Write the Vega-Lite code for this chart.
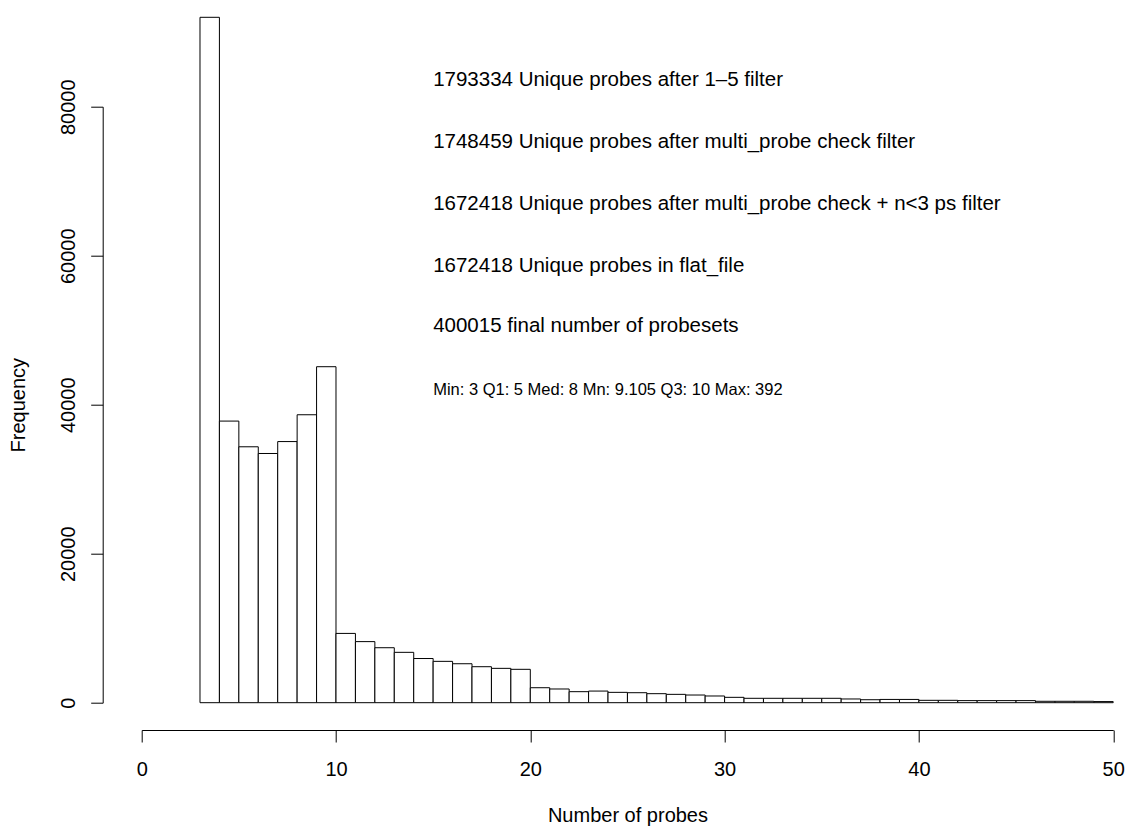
{
  "$schema": "https://vega.github.io/schema/vega-lite/v6.json",
  "width": 971.5,
  "height": 596,
  "autosize": {"type": "none"},
  "padding": {"left": 141.7, "top": 106.7, "right": 14.8, "bottom": 123.3},
  "background": "white",
  "config": {"view": {"stroke": null}, "font": "Liberation Sans"},
  "datasets": {
    "bins": [
      {"start": 3, "end": 4, "count": 92000},
      {"start": 4, "end": 5, "count": 37800},
      {"start": 5, "end": 6, "count": 34350},
      {"start": 6, "end": 7, "count": 33450},
      {"start": 7, "end": 8, "count": 35050},
      {"start": 8, "end": 9, "count": 38650},
      {"start": 9, "end": 10, "count": 45100},
      {"start": 10, "end": 11, "count": 9300},
      {"start": 11, "end": 12, "count": 8200},
      {"start": 12, "end": 13, "count": 7380},
      {"start": 13, "end": 14, "count": 6760},
      {"start": 14, "end": 15, "count": 5930},
      {"start": 15, "end": 16, "count": 5550},
      {"start": 16, "end": 17, "count": 5230},
      {"start": 17, "end": 18, "count": 4830},
      {"start": 18, "end": 19, "count": 4610},
      {"start": 19, "end": 20, "count": 4480},
      {"start": 20, "end": 21, "count": 2010},
      {"start": 21, "end": 22, "count": 1840},
      {"start": 22, "end": 23, "count": 1480},
      {"start": 23, "end": 24, "count": 1560},
      {"start": 24, "end": 25, "count": 1390},
      {"start": 25, "end": 26, "count": 1340},
      {"start": 26, "end": 27, "count": 1210},
      {"start": 27, "end": 28, "count": 1120},
      {"start": 28, "end": 29, "count": 1030},
      {"start": 29, "end": 30, "count": 900},
      {"start": 30, "end": 31, "count": 720},
      {"start": 31, "end": 32, "count": 590},
      {"start": 32, "end": 33, "count": 590},
      {"start": 33, "end": 34, "count": 590},
      {"start": 34, "end": 35, "count": 590},
      {"start": 35, "end": 36, "count": 590},
      {"start": 36, "end": 37, "count": 500},
      {"start": 37, "end": 38, "count": 400},
      {"start": 38, "end": 39, "count": 440},
      {"start": 39, "end": 40, "count": 440},
      {"start": 40, "end": 41, "count": 320},
      {"start": 41, "end": 42, "count": 320},
      {"start": 42, "end": 43, "count": 280},
      {"start": 43, "end": 44, "count": 280},
      {"start": 44, "end": 45, "count": 280},
      {"start": 45, "end": 46, "count": 280},
      {"start": 46, "end": 47, "count": 190},
      {"start": 47, "end": 48, "count": 190},
      {"start": 48, "end": 49, "count": 190},
      {"start": 49, "end": 50, "count": 150}
    ],
    "notes": [
      {"x": 15, "y": 83600, "label": "1793334 Unique probes after 1–5 filter"},
      {"x": 15, "y": 75300, "label": "1748459 Unique probes after multi_probe check filter"},
      {"x": 15, "y": 67000, "label": "1672418 Unique probes after multi_probe check + n<3 ps filter"},
      {"x": 15, "y": 58600, "label": "1672418 Unique probes in flat_file"},
      {"x": 15, "y": 50500, "label": "400015 final number of probesets"}
    ],
    "stats": [
      {"x": 15, "y": 42000, "label": "Min: 3 Q1: 5 Med: 8 Mn: 9.105 Q3: 10 Max: 392"}
    ]
  },
  "layer": [
    {
      "data": {"name": "bins"},
      "mark": {"type": "bar", "fill": "white", "stroke": "black", "strokeWidth": 1},
      "encoding": {
        "x": {
          "field": "start",
          "type": "quantitative",
          "scale": {"domain": [0, 50], "nice": false, "zero": false},
          "axis": {
            "title": "Number of probes",
            "values": [0, 10, 20, 30, 40, 50],
            "format": "d",
            "offset": 27.3,
            "tickSize": 12,
            "grid": false,
            "domainColor": "black",
            "tickColor": "black",
            "labelColor": "black",
            "labelFont": "Liberation Sans",
            "labelFontSize": 20,
            "labelPadding": 17,
            "labelFlush": false,
            "labelOverlap": false,
            "titleFont": "Liberation Sans",
            "titleFontSize": 20,
            "titleFontWeight": "normal",
            "titleColor": "black",
            "titlePadding": 26
          }
        },
        "x2": {"field": "end"},
        "y": {
          "field": "count",
          "type": "quantitative",
          "scale": {"domain": [0, 80000], "nice": false},
          "axis": {
            "title": "Frequency",
            "values": [0, 20000, 40000, 60000, 80000],
            "format": "d",
            "offset": 39,
            "tickSize": 12,
            "grid": false,
            "domainColor": "black",
            "tickColor": "black",
            "labelColor": "black",
            "labelFont": "Liberation Sans",
            "labelFontSize": 20,
            "labelAngle": -90,
            "labelAlign": "center",
            "labelBaseline": "alphabetic",
            "labelPadding": 16,
            "labelFlush": false,
            "labelOverlap": false,
            "titleFont": "Liberation Sans",
            "titleFontSize": 20,
            "titleFontWeight": "normal",
            "titleColor": "black",
            "titlePadding": 30
          }
        },
        "y2": {"datum": 0}
      }
    },
    {
      "data": {"name": "notes"},
      "mark": {"type": "text", "align": "left", "baseline": "middle", "fontSize": 20.5, "font": "Liberation Sans", "color": "black"},
      "encoding": {
        "x": {"field": "x", "type": "quantitative"},
        "y": {"field": "y", "type": "quantitative"},
        "text": {"field": "label"}
      }
    },
    {
      "data": {"name": "stats"},
      "mark": {"type": "text", "align": "left", "baseline": "middle", "fontSize": 16.5, "font": "Liberation Sans", "color": "black"},
      "encoding": {
        "x": {"field": "x", "type": "quantitative"},
        "y": {"field": "y", "type": "quantitative"},
        "text": {"field": "label"}
      }
    }
  ]
}
